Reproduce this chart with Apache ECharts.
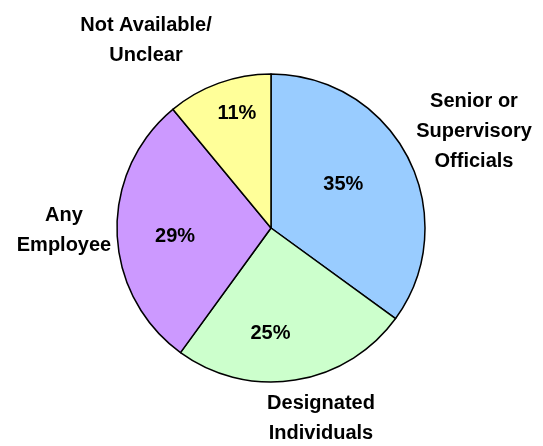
<!DOCTYPE html>
<html>
<head>
<meta charset="utf-8">
<script src="https://cdn.jsdelivr.net/npm/echarts@6/dist/echarts.min.js"></script>
<style>
  html, body { margin: 0; padding: 0; background: #fff; }
  #main { width: 543px; height: 446px; }
</style>
</head>
<body>
<div id="main"></div>
<script>
const categories = ['Senior or\nSupervisory\nOfficials', 'Designated\nIndividuals', 'Any\nEmployee', 'Not Available/\nUnclear'];
const shares = [35, 25, 29, 11];
const sliceColors = ['#99CCFF', '#CCFFCC', '#CC99FF', '#FFFF99'];

// where the names sit, and nudges for the % labels (layout only)
const namePos = [[474, 131], [321, 418], [64, 230], [146, 40]];
const pctNudge = [[1, -7], [-13, 26], [-16, 6], [-7, -39]];

const chart = echarts.init(document.getElementById('main'));

const pieData = categories.map((c, i) => ({
  name: c,
  value: shares[i],
  itemStyle: {color: sliceColors[i]}
}));

const font = '"Liberation Sans", Arial, sans-serif';

chart.setOption({
  animation: false,
  series: [
    {
      type: 'pie',
      center: [271, 228],
      radius: [0, 154],
      startAngle: 90,
      clockwise: true,
      data: pieData,
      itemStyle: {borderColor: '#000', borderWidth: 1.5},
      emphasis: {disabled: true},
      label: {
        show: true,
        position: 'inside',
        formatter: '{c}%',
        color: '#000',
        fontFamily: font,
        fontWeight: 'bold',
        fontSize: 20
      },
      labelLine: {show: false},
      labelLayout: function (p) {
        return {dx: pctNudge[p.dataIndex][0], dy: pctNudge[p.dataIndex][1]};
      },
      z: 2
    },
    {
      type: 'pie',
      center: [271, 228],
      radius: [0, 154],
      startAngle: 90,
      clockwise: true,
      silent: true,
      data: pieData.map(d => ({name: d.name, value: d.value, itemStyle: {color: 'rgba(0,0,0,0)'}})),
      itemStyle: {borderWidth: 0},
      emphasis: {disabled: true},
      label: {
        show: true,
        position: 'outside',
        formatter: '{b}',
        color: '#000',
        fontFamily: font,
        fontWeight: 'bold',
        fontSize: 20,
        lineHeight: 30,
        align: 'center',
        overflow: 'none',
        width: 200
      },
      labelLine: {show: false},
      labelLayout: function (p) {
        return {
          x: namePos[p.dataIndex][0],
          y: namePos[p.dataIndex][1],
          align: 'center',
          verticalAlign: 'middle'
        };
      },
      z: 1
    }
  ]
});
</script>
</body>
</html>
